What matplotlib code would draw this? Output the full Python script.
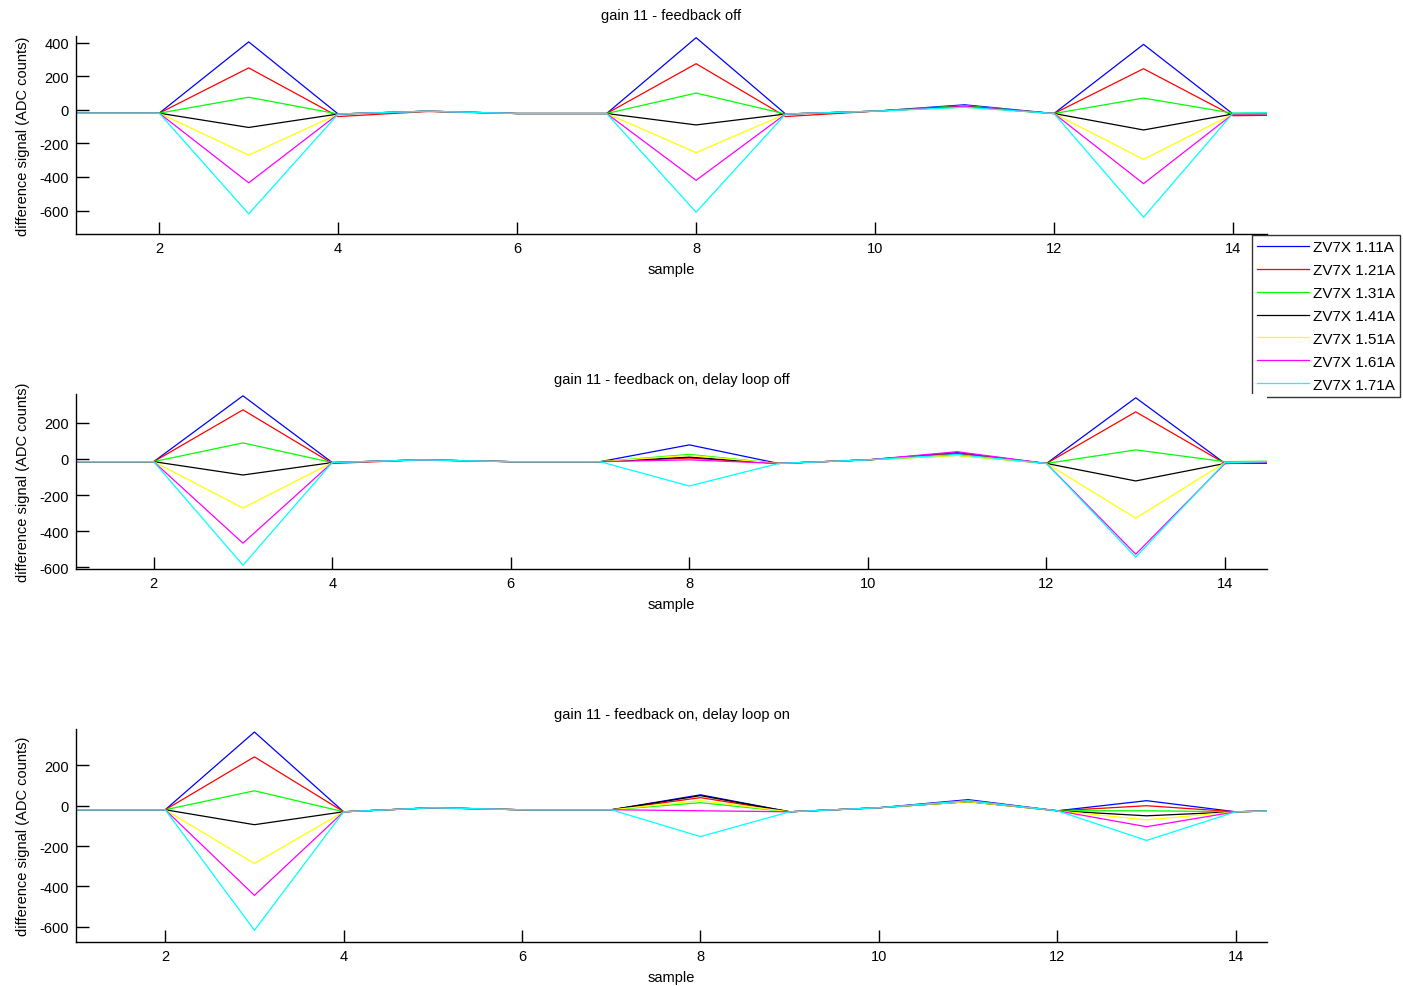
import numpy as np
import matplotlib
matplotlib.use("Agg")
import matplotlib.pyplot as plt

plt.rcParams['font.family'] = ['Liberation Sans', 'DejaVu Sans']
plt.rcParams['font.size'] = 10.5
plt.rcParams['axes.unicode_minus'] = False

samples = np.arange(1, 16)
labels = ['ZV7X 1.11A', 'ZV7X 1.21A', 'ZV7X 1.31A', 'ZV7X 1.41A',
          'ZV7X 1.51A', 'ZV7X 1.61A', 'ZV7X 1.71A']
colors = ['#0000ff', '#ff0000', '#00ff00', '#000000', '#ffff00', '#ff00ff', '#00ffff']

titles = ['gain 11 - feedback off',
          'gain 11 - feedback on, delay loop off',
          'gain 11 - feedback on, delay loop on']

# feedback off
fb_off = [
    [-20, -20, 405, -25, -8, -22, -22, 430, -25, -8, 30, -22, 390, -25, -20],
    [-20, -20, 250, -40, -10, -22, -22, 275, -40, -8, 20, -22, 245, -35, -30],
    [-20, -20, 75, -25, -8, -22, -22, 100, -25, -8, 25, -22, 70, -20, -15],
    [-20, -20, -105, -25, -8, -22, -22, -90, -25, -8, 20, -22, -120, -25, -20],
    [-20, -20, -270, -25, -8, -22, -22, -255, -25, -8, 15, -22, -295, -25, -20],
    [-20, -20, -435, -25, -8, -22, -22, -420, -25, -8, 20, -22, -440, -25, -20],
    [-20, -20, -620, -25, -8, -22, -22, -610, -25, -8, 15, -22, -640, -20, -15],
]
# feedback on, delay loop off
fb_on_dl_off = [
    [-15, -15, 350, -20, -5, -15, -15, 78, -25, -5, 35, -25, 339, -25, -15],
    [-15, -15, 272, -25, -5, -15, -15, 5, -25, -5, 30, -25, 261, -25, -20],
    [-15, -15, 89, -20, -5, -15, -15, 25, -25, -5, 20, -25, 50, -15, -10],
    [-15, -15, -89, -20, -5, -15, -15, 10, -25, -5, 25, -25, -122, -25, -20],
    [-15, -15, -272, -20, -5, -15, -15, 20, -25, -5, 20, -25, -328, -20, -15],
    [-15, -15, -467, -20, -5, -15, -15, -5, -25, -5, 40, -25, -528, -25, -15],
    [-15, -15, -589, -20, -5, -15, -15, -150, -25, -5, 25, -25, -544, -20, -10],
]
# feedback on, delay loop on
fb_on_dl_on = [
    [-20, -20, 365, -30, -10, -20, -20, 54, -30, -10, 30, -25, 25, -30, -20],
    [-20, -20, 242, -30, -10, -20, -20, 40, -30, -10, 25, -25, 0, -30, -20],
    [-20, -20, 74, -30, -10, -20, -20, 15, -30, -10, 20, -25, -25, -30, -20],
    [-20, -20, -94, -30, -10, -20, -20, 50, -30, -10, 20, -25, -50, -30, -20],
    [-20, -20, -286, -30, -10, -20, -20, 25, -30, -10, 20, -25, -70, -30, -20],
    [-20, -20, -444, -30, -10, -20, -20, -25, -30, -10, 25, -25, -104, -30, -20],
    [-20, -20, -617, -30, -10, -20, -20, -153, -30, -10, 25, -25, -172, -30, -20],
]
panels = [fb_off, fb_on_dl_off, fb_on_dl_on]

xlims = [(1.07, 14.38), (1.13, 14.47), (1.0, 14.35)]
ylims = [(-740, 440), (-610, 360), (-675, 380)]
yticks = [[-600, -400, -200, 0, 200, 400],
          [-600, -400, -200, 0, 200],
          [-600, -400, -200, 0, 200]]
title_pads = [12, 8, 8]

W, H = 1403, 987
# axes boxes in pixels: left, top, right, bottom
boxes = [(76, 37, 1267, 235), (76, 395, 1267, 570), (76, 730, 1267, 943)]

fig = plt.figure(figsize=(W / 100, H / 100), dpi=100)
axes = []
for i, (l, t, r, b) in enumerate(boxes):
    ax = fig.add_axes([l / W, 1 - b / H, (r - l) / W, (b - t) / H])
    for j, series in enumerate(panels[i]):
        ax.plot(samples, series, color=colors[j], lw=0.9, label=labels[j])
    ax.set_xlim(*xlims[i])
    ax.set_ylim(*ylims[i])
    ax.set_xticks([2, 4, 6, 8, 10, 12, 14])
    ax.set_yticks(yticks[i])
    ax.spines['top'].set_visible(False)
    ax.spines['right'].set_visible(False)
    ax.spines['left'].set_linewidth(1.0)
    ax.spines['bottom'].set_linewidth(1.0)
    ax.tick_params(direction='in', length=9, width=1.0, labelsize=10.5, pad=5)
    ax.set_title(titles[i], fontsize=10.5, pad=title_pads[i])
    ax.set_xlabel('sample', fontsize=10.5, labelpad=5)
    ax.set_ylabel('difference signal (ADC counts)', fontsize=10.5, labelpad=7)
    axes.append(ax)

leg = axes[0].legend(loc='upper left', bbox_to_anchor=(1252 / W, 1 - 236 / H),
                     bbox_transform=fig.transFigure, frameon=True, fancybox=False,
                     borderaxespad=0, fontsize=11, handlelength=3.4,
                     labelspacing=0.58, handletextpad=0.25, borderpad=0.35)
leg.get_frame().set_edgecolor('black')
leg.get_frame().set_linewidth(1.0)

fig.savefig('out.png', dpi=100)
